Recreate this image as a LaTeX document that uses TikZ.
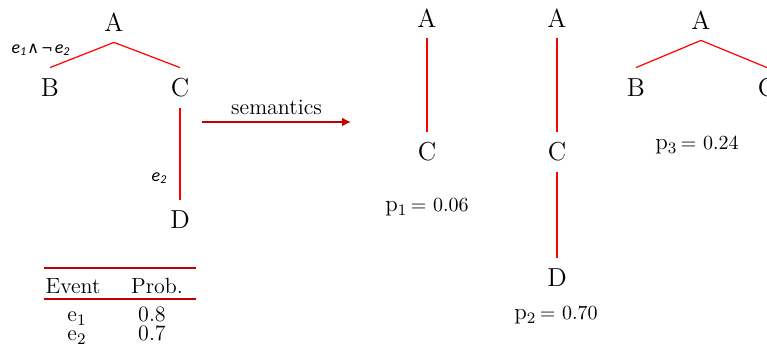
\documentclass[tikz,border=0pt]{standalone}
\usepackage{fontspec}
\usepackage{tikz}
\usetikzlibrary{arrows.meta, positioning}
\definecolor{darkred}{HTML}{C00000}
\newfontfamily\edgefont{Carlito}
\newfontfamily\opfont{DejaVu Sans}

\begin{document}
\begin{tikzpicture}[
    x=0.5pt, y=-0.5pt,
    >=Latex,
    tnode/.style={
        inner sep=0pt,
        minimum height=20pt,
        minimum width=12pt,
        font=\fontsize{13}{15}\selectfont
    },
    branch/.style={red, line width=0.6pt},
    evlabel/.style={
        inner sep=1pt,
        text=black,
        font=\fontsize{9}{11}\selectfont\edgefont\itshape
    },
    prob/.style={anchor=base, inner sep=0pt, font=\fontsize{11.5}{14}\selectfont},
    cell/.style={anchor=base, inner sep=0pt, font=\fontsize{11}{13}\selectfont},
    tabrule/.style={darkred, line width=0.8pt},
    semarrow/.style={-{Latex[length=4.5pt, width=4.5pt]}, darkred, line width=1pt}
]
\useasboundingbox (0,0) rectangle (767,356);

% source tree
\node[tnode] (A1) at (114,22) {A};
\node[tnode] (B1) at (50,88) {B};
\node[tnode] (C1) at (180,88) {C};
\node[tnode] (D1) at (180,220) {D};

\draw[branch] (A1.south) -- node[evlabel, pos=0.64, anchor=south east]
    {e\textsubscript{1}{\opfont\upshape\fontsize{8}{10}\selectfont ∧}\kern1pt{\opfont\upshape\fontsize{7}{10}\selectfont ¬}\kern1pt e\textsubscript{2}} (B1.north);
\draw[branch] (A1.south) -- (C1.north);
\draw[branch] (C1) -- node[evlabel, pos=0.77, left=5pt] {e\textsubscript{2}} (D1);

% event table
\draw[tabrule] (44,268) -- (196,268);
\draw[tabrule] (44,299) -- (196,299);
\node[cell] (ev) at (73,294) {Event};
\node[cell] (pr) at (157,294) {Prob.};
\node[cell] (e1) at (77,322) {e$_1$};
\node[cell] (v1) at (152,322) {0.8};
\node[cell] (e2) at (77,341) {e$_2$};
\node[cell] (v2) at (152,341) {0.7};

% semantics arrow
\coordinate (semfrom) at (202,122);
\coordinate (semto) at (351,122);
\draw[semarrow] (semfrom) -- node[above, text=black, font=\fontsize{11}{13}\selectfont] {semantics} (semto);

% world 1
\node[tnode] (A2) at (427,18) {A};
\node[tnode] (C2) at (427,152) {C};
\draw[branch] (A2) -- (C2);
\node[prob] (p1) at (427,212) {p$_1${\fontsize{10}{12}\selectfont\,= 0.06}};

% world 2
\node[tnode] (A3) at (557,18) {A};
\node[tnode] (C3) at (557,152) {C};
\node[tnode] (D3) at (557,278) {D};
\draw[branch] (A3) -- (C3);
\draw[branch] (C3) -- (D3);
\node[prob] (p2) at (556,320) {p$_2${\fontsize{10}{12}\selectfont\,= 0.70}};

% world 3
\node[tnode] (A4) at (701,20) {A};
\node[tnode] (B4) at (636,88) {B};
\node[tnode] (C4) at (767,88) {C};
\draw[branch] (A4.south) -- (B4.north);
\draw[branch] (A4.south) -- (C4.north);
\node[prob] (p3) at (697,150) {p$_3${\fontsize{10}{12}\selectfont\,= 0.24}};
\end{tikzpicture}
\end{document}
